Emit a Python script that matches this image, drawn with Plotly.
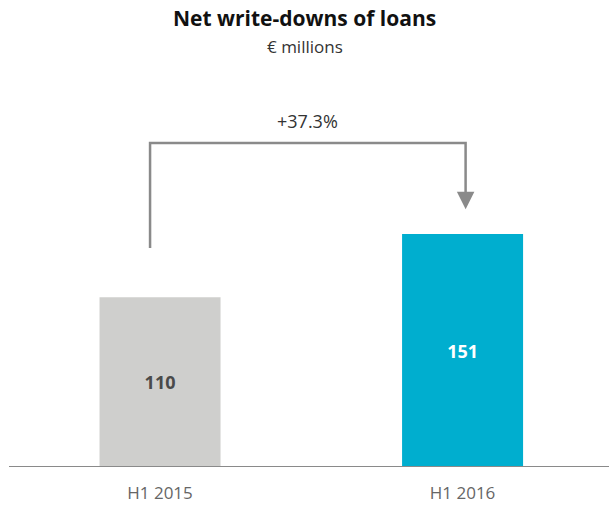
import plotly.graph_objects as go

# Data
periods = ["H1 2015", "H1 2016"]
values = [110, 151]
bar_colors = ["#CFCFCD", "#00AECF"]
label_colors = ["#4a4a4a", "#ffffff"]

title = "Net write-downs of loans"
subtitle = "€ millions"

change_pct = (values[1] / values[0] - 1) * 100
change_label = f"+{change_pct:.1f}%"

FONT = "Open Sans"
LINE = "#8a8a8a"
PLOT_H = 467  # plot area height in px (bottom margin holds the period labels)

fig = go.Figure()
fig.add_trace(go.Bar(
    x=[0, 1],
    y=values,
    width=0.4,
    marker=dict(color=bar_colors, line=dict(width=0)),
    text=[str(v) for v in values],
    textposition="inside",
    insidetextanchor="middle",
    textfont=dict(family=FONT, size=18, color=label_colors, weight="bold"),
    hoverinfo="skip",
))

# baseline
fig.add_shape(type="line", xref="paper", yref="y", x0=9 / 609, x1=1, y0=0, y1=0,
              line=dict(color=LINE, width=2.2))

# change bracket from first bar to second bar
x_left = -0.033
x_right = 1.01
y_start = values[0] + 32
y_top = values[1] + 59
y_tip = values[1] + 16
fig.add_shape(type="path", xref="x", yref="y",
              path=f"M {x_left},{y_start} L {x_left},{y_top} L {x_right},{y_top} L {x_right},{y_tip + 8}",
              line=dict(color=LINE, width=2.5))
fig.add_annotation(x=x_right, y=y_tip, ax=x_right, ay=y_tip + 12, xref="x", yref="y",
                   axref="x", ayref="y", showarrow=True, arrowhead=2, arrowsize=1.4,
                   arrowwidth=2.5, arrowcolor=LINE, text="")
fig.add_annotation(x=(x_left + x_right) / 2, y=y_top + 5, xref="x", yref="y",
                   text=change_label, showarrow=False, yanchor="bottom",
                   font=dict(family=FONT, size=18, color="#333333"))

# titles
fig.add_annotation(x=0.5, y=(PLOT_H - 18) / PLOT_H, xref="paper", yref="paper",
                   text=f"<b>{title}</b>", showarrow=False, yanchor="middle",
                   font=dict(family=FONT, size=21, color="#111111"))
fig.add_annotation(x=0.5, y=(PLOT_H - 47) / PLOT_H, xref="paper", yref="paper",
                   text=subtitle, showarrow=False, yanchor="middle",
                   font=dict(family=FONT, size=17, color="#333333"))

fig.update_layout(
    width=609, height=507,
    margin=dict(l=0, r=0, t=0, b=507 - PLOT_H),
    paper_bgcolor="white", plot_bgcolor="white",
    showlegend=False,
    xaxis=dict(range=[-0.529, 1.484], tickvals=[0, 1], ticktext=periods,
               showgrid=False, zeroline=False, showline=False, ticks="",
               ticklabelstandoff=14,
               tickfont=dict(family=FONT, size=17, color="#666666")),
    yaxis=dict(range=[0, PLOT_H / 1.543], visible=False),
)

fig.write_html("out.html")
